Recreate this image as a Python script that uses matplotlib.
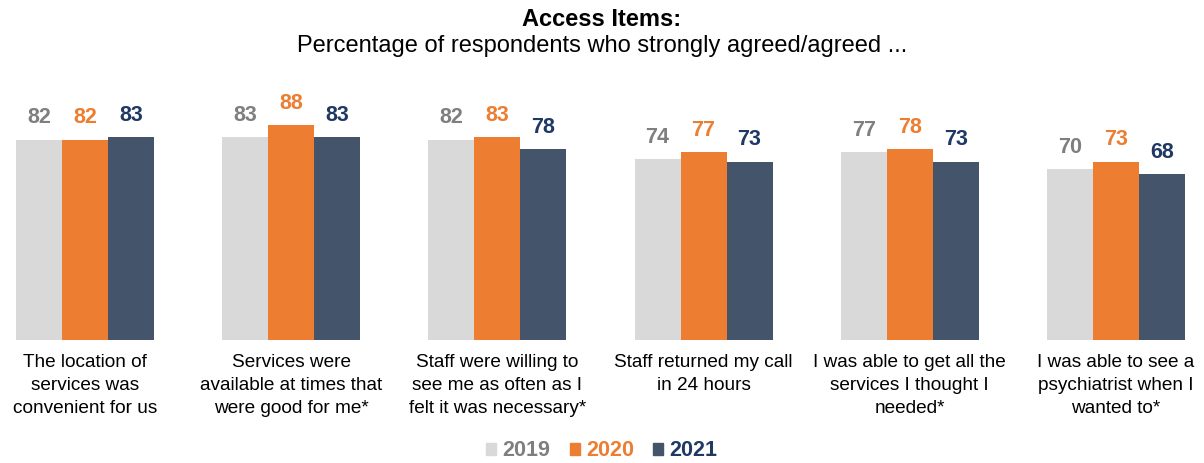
import matplotlib.pyplot as plt
from matplotlib.patches import Patch

plt.rcParams['font.family'] = ['Liberation Sans', 'DejaVu Sans']

categories = [
    "The location of\nservices was\nconvenient for us",
    "Services were\navailable at times that\nwere good for me*",
    "Staff were willing to\nsee me as often as I\nfelt it was necessary*",
    "Staff returned my call\nin 24 hours",
    "I was able to get all the\nservices I thought I\nneeded*",
    "I was able to see a\npsychiatrist when I\nwanted to*",
]
years = ["2019", "2020", "2021"]
vals_2019 = [82, 83, 82, 74, 77, 70]
vals_2020 = [82, 88, 83, 77, 78, 73]
vals_2021 = [83, 83, 78, 73, 73, 68]

bar_colors = ["#D9D9D9", "#ED7D31", "#44546A"]
text_colors = ["#7F7F7F", "#ED7D31", "#1F3864"]

fig = plt.figure(figsize=(12.04, 4.63), dpi=100)
ax = fig.add_axes([0, 0.2657, 1, 0.528])

w = 0.223
x = list(range(len(categories)))
for i, vals in enumerate([vals_2019, vals_2020, vals_2021]):
    pos = [xi + (i - 1) * w for xi in x]
    bars = ax.bar(pos, vals, width=w, color=bar_colors[i], zorder=2)
    for b, v in zip(bars, vals):
        ax.annotate(str(v), (b.get_x() + b.get_width() / 2, v),
                    xytext=(0, 8), textcoords="offset points",
                    ha="center", va="bottom", fontsize=15.5, fontweight="bold",
                    color=text_colors[i])

ax.set_xlim(-0.412, 5.427)
ax.set_ylim(0, 100)
ax.set_yticks([])
ax.set_xticks(x)
ax.set_xticklabels(categories, fontsize=13.7, linespacing=1.45)
ax.tick_params(axis="x", length=0, pad=10)
for s in ax.spines.values():
    s.set_visible(False)

fig.text(0.5, 0.958, "Access Items:", ha="center", va="center",
         fontsize=17, fontweight="bold")
fig.text(0.5, 0.9, "Percentage of respondents who strongly agreed/agreed ...",
         ha="center", va="center", fontsize=17)

handles = [Patch(color=c) for c in bar_colors]
fig.legend(handles, years, loc="center", bbox_to_anchor=(0.5, 0.026), ncol=3,
           frameon=False, handlelength=0.45, handleheight=0.45, handletextpad=0.3,
           columnspacing=0.9, labelcolor=text_colors,
           prop={"size": 15.5, "weight": "bold"})

fig.savefig("out.png", dpi=100)
